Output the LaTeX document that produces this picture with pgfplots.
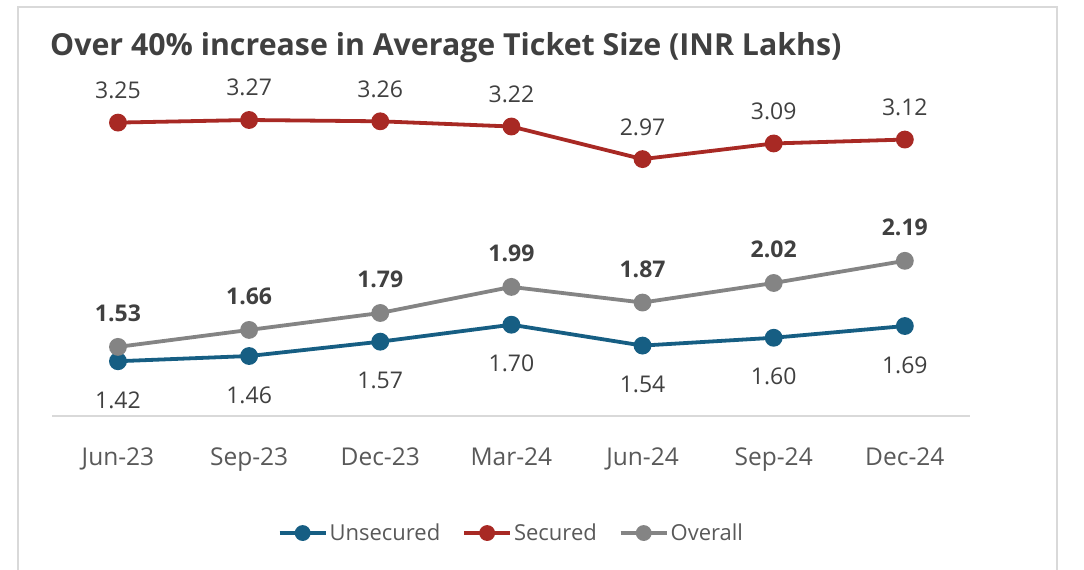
\documentclass[border=0pt]{standalone}
\usepackage{fontspec}
\setmainfont{Open Sans}
\usepackage{pgfplots}
\pgfplotsset{compat=1.18}
\definecolor{unsec}{RGB}{22,94,131}
\definecolor{sec}{RGB}{168,41,36}
\definecolor{overall}{RGB}{132,132,132}
\definecolor{txt}{RGB}{64,64,64}
\definecolor{tickc}{RGB}{89,89,89}
\definecolor{framec}{RGB}{217,217,217}
\begin{document}
\begin{tikzpicture}[x=1pt,y=1pt]
\begin{scope}[shift={(-52.4,-154)}]
\path[use as bounding box] (0,0) rectangle (1084,570);
\fill[white] (0,0) rectangle (1084,570);
\draw[framec, line width=1.5pt] (18,-20) -- (18,563) -- (1057,563) -- (1057,-20);
\node[anchor=base west, font=\bfseries\fontsize{30.3}{36}\selectfont, text=txt, inner sep=0] at (50,514) {Over 40\% increase in Average Ticket Size (INR Lakhs)};
\end{scope}
\begin{axis}[
  scale only axis, width=918pt, height=326pt,
  xmin=-0.5, xmax=6.5, ymin=1, ymax=3.5,
  axis y line=none, axis x line*=bottom,
  x axis line style={draw=framec, line width=1.5pt, -},
  xtick={0,...,6},
  xticklabels={Jun-23,Sep-23,Dec-23,Mar-24,Jun-24,Sep-24,Dec-24},
  xtick style={draw=none},
  xticklabel style={anchor=base, yshift=-49pt, font=\fontsize{24.5}{29}\selectfont, text=tickc, inner sep=0},
  clip=false,
  legend columns=3,
  legend style={at={(0.5,-0.359)}, anchor=center, draw=none, fill=none,
    font=\fontsize{22}{26}\selectfont, text=tickc,
    /tikz/every even column/.append style={column sep=20pt}},
  legend image code/.code={\draw[mark repeat=2,mark phase=2,mark size=6pt] plot coordinates {(0pt,0pt) (23pt,0pt) (46pt,0pt)};},
  nodes near coords, point meta=explicit symbolic,
]
\addplot[unsec, line width=3.8pt, mark=*, mark size=7pt, mark options={solid},
  every node near coord/.append style={anchor=base, yshift=-47pt, text=txt, font=\fontsize{23}{28}\selectfont}]
  coordinates {(0,1.42)[1.42] (1,1.46)[1.46] (2,1.57)[1.57] (3,1.70)[1.70] (4,1.54)[1.54] (5,1.60)[1.60] (6,1.69)[1.69]};
\addlegendentry{Unsecured}
\addplot[sec, line width=3.8pt, mark=*, mark size=7pt, mark options={solid},
  every node near coord/.append style={anchor=base, yshift=24pt, text=txt, font=\fontsize{23}{28}\selectfont}]
  coordinates {(0,3.25)[3.25] (1,3.27)[3.27] (2,3.26)[3.26] (3,3.22)[3.22] (4,2.97)[2.97] (5,3.09)[3.09] (6,3.12)[3.12]};
\addlegendentry{Secured}
\addplot[overall, line width=3.8pt, mark=*, mark size=7pt, mark options={solid},
  every node near coord/.append style={anchor=base, yshift=25pt, text=txt, font=\bfseries\fontsize{23}{28}\selectfont}]
  coordinates {(0,1.53)[1.53] (1,1.66)[1.66] (2,1.79)[1.79] (3,1.99)[1.99] (4,1.87)[1.87] (5,2.02)[2.02] (6,2.19)[2.19]};
\addlegendentry{Overall}
\end{axis}
\end{tikzpicture}
\end{document}
